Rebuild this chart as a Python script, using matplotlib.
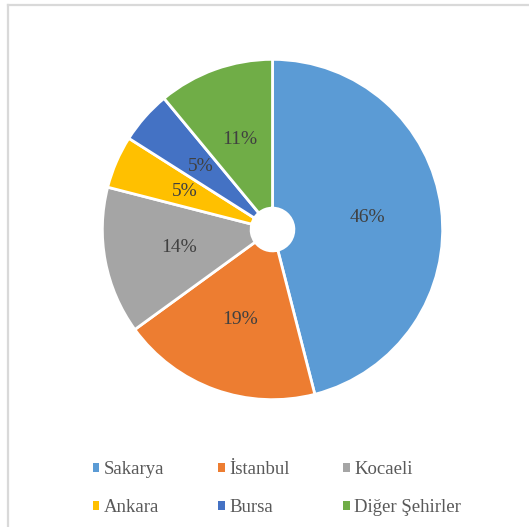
import matplotlib
matplotlib.use("Agg")
import matplotlib.pyplot as plt
from matplotlib.patches import Patch
from matplotlib.lines import Line2D

categories = ["Sakarya", "İstanbul", "Kocaeli", "Ankara", "Bursa", "Diğer Şehirler"]
values = [46, 19, 14, 5, 5, 11]
colors = ["#5B9BD5", "#ED7D31", "#A5A5A5", "#FFC000", "#4472C4", "#70AD47"]

plt.rcParams['font.family'] = ['Liberation Serif', 'DejaVu Serif']

W, H = 529, 527
fig = plt.figure(figsize=(W / 100, H / 100), dpi=100)
fig.patch.set_facecolor("white")

# chart frame (left and top edges visible)
fig.add_artist(Line2D([7.5 / W, 7.5 / W], [0, 1 - 4.5 / H], color="#D9D9D9", lw=1.6,
                      transform=fig.transFigure))
fig.add_artist(Line2D([7.5 / W, 1], [1 - 4.5 / H, 1 - 4.5 / H], color="#D9D9D9", lw=1.6,
                      transform=fig.transFigure))

cx, cy, R = 272.5, 229.5, 171
ax = fig.add_axes([(cx - R) / W, (H - cy - R) / H, 2 * R / W, 2 * R / H])
wedges, texts, autotexts = ax.pie(
    values, colors=colors, startangle=90, counterclock=False, radius=1,
    autopct='%1.0f%%', pctdistance=0.56,
    wedgeprops=dict(width=1 - 21.5 / R, edgecolor="white", linewidth=2.0),
    textprops=dict(fontsize=14, color="#404040"))
ax.set_xlim(-1.005, 1.005)
ax.set_ylim(-1.005, 1.005)
ax.axis("off")

# legend ordered row-wise in 3 columns
order = [0, 3, 1, 4, 2, 5]
handles = [Patch(facecolor=colors[i], edgecolor="none") for i in order]
labels = [categories[i] for i in order]
fig.legend(handles, labels, ncol=3, loc="center", bbox_to_anchor=(277 / W, 1 - 489 / H),
           frameon=False, fontsize=13.5, labelcolor="#595959",
           handlelength=0.35, handleheight=0.35, handletextpad=0.25,
           columnspacing=2.85, labelspacing=1.12)

fig.savefig("out.png", dpi=100, facecolor="white")
